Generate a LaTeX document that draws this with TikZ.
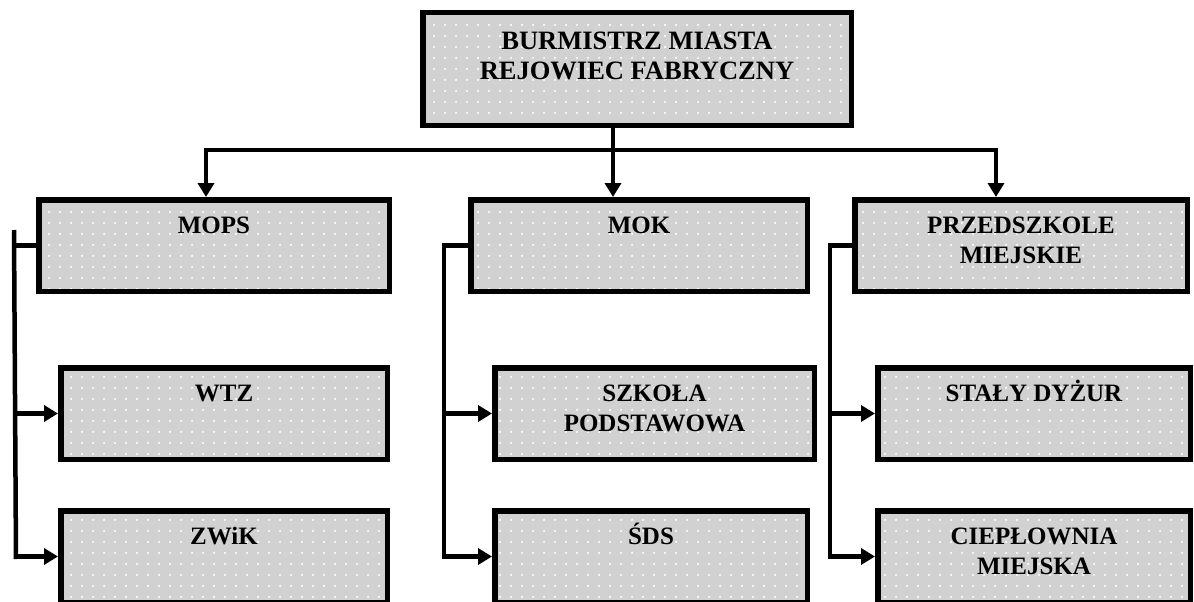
\documentclass[tikz,border=0pt]{standalone}
\usepackage{fontspec}
\setmainfont{Liberation Serif}
\usetikzlibrary{arrows.meta,patterns.meta}
\tikzdeclarepattern{
  name=sparkle,
  type=uncolored,
  bounding box={(0pt,0pt) and (11pt,11pt)},
  tile size={(11pt,11pt)},
  code={\fill (5.5pt,5.5pt) circle (1.3pt);}
}
\begin{document}
\begin{tikzpicture}[x=1pt,y=-1pt,
  box/.style={draw=black, line width=5.5pt, preaction={fill=black!18}, pattern=sparkle, pattern color=white, inner sep=0pt, minimum height=91.5pt},
  lbl/.style={font=\bfseries\fontsize{25}{30}\selectfont, align=center, anchor=base, inner sep=0pt},
  conn/.style={line width=4.5pt, line join=miter},
  arr/.style={-{Triangle[length=14pt,width=16pt]}}]
\clip (0,0) rectangle (1194,602);
% boxes
\node[box, minimum width=428.5pt, minimum height=112.5pt] (top) at (637,69) {};
\node[box, minimum width=350.5pt] (mops) at (214,245.5) {};
\node[box, minimum width=336.5pt] (mok) at (639,245.5) {};
\node[box, minimum width=332.5pt] (prz) at (1021,245.5) {};
\node[box, minimum width=326.5pt] (wtz) at (224,413.5) {};
\node[box, minimum width=326.5pt] (zwik) at (224,556.5) {};
\node[box, minimum width=319.5pt] (szk) at (654.5,413.5) {};
\node[box, minimum width=312.5pt] (sds) at (651,556.5) {};
\node[box, minimum width=312.5pt] (sta) at (1034,413.5) {};
\node[box, minimum width=312.5pt] (cie) at (1034,556.5) {};
% labels (base anchor = baseline of the last line)
\node[lbl, font=\bfseries\fontsize{26.5}{30}\selectfont] (topt) at ([yshift=-69pt]top.north) {BURMISTRZ MIASTA\\REJOWIEC FABRYCZNY};
\node[lbl] (mopst) at ([yshift=-36pt]mops.north) {MOPS};
\node[lbl] (mokt) at ([yshift=-36pt]mok.north) {MOK};
\node[lbl] (przt) at ([yshift=-66pt]prz.north) {PRZEDSZKOLE\\MIEJSKIE};
\node[lbl] (wtzt) at ([yshift=-36pt]wtz.north) {WTZ};
\node[lbl] (zwikt) at ([yshift=-36pt]zwik.north) {ZWiK};
\node[lbl] (szkt) at ([yshift=-66pt]szk.north) {SZKOŁA\\PODSTAWOWA};
\node[lbl] (sdst) at ([yshift=-36pt]sds.north) {ŚDS};
\node[lbl] (stat) at ([yshift=-36pt]sta.north) {STAŁY DYŻUR};
\node[lbl] (ciet) at ([yshift=-66pt]cie.north) {CIEPŁOWNIA\\MIEJSKA};
% top connectors
\coordinate (tb) at (613,150);
\coordinate (tl) at (206,150);
\coordinate (tr) at (996,150);
\draw[conn,arr] (top.south -| tb) -- (mok.north -| tb);
\draw[conn,arr] (tb) -| (mops.north -| tl);
\draw[conn,arr] (tb) -| (prz.north -| tr);
% MOPS branch
\coordinate (va) at (14,230);
\coordinate (vb) at (16,559);
\draw[conn] (va) -- (vb);
\draw[conn] (mops.west -| va) -- (mops.west);
\draw[conn,arr] (wtz.west -| va) -- (wtz.west);
\draw[conn,arr] (zwik.west -| va) -- (zwik.west);
% MOK branch
\coordinate (vm) at (444,300);
\draw[conn,arr] (mok.west) -- (mok.west -| vm) -- (sds.west -| vm) -- (sds.west);
\draw[conn,arr] (szk.west -| vm) -- (szk.west);
% Przedszkole branch
\coordinate (vp) at (830,300);
\draw[conn,arr] (prz.west) -- (prz.west -| vp) -- (cie.west -| vp) -- (cie.west);
\draw[conn,arr] (sta.west -| vp) -- (sta.west);
\end{tikzpicture}
\end{document}
